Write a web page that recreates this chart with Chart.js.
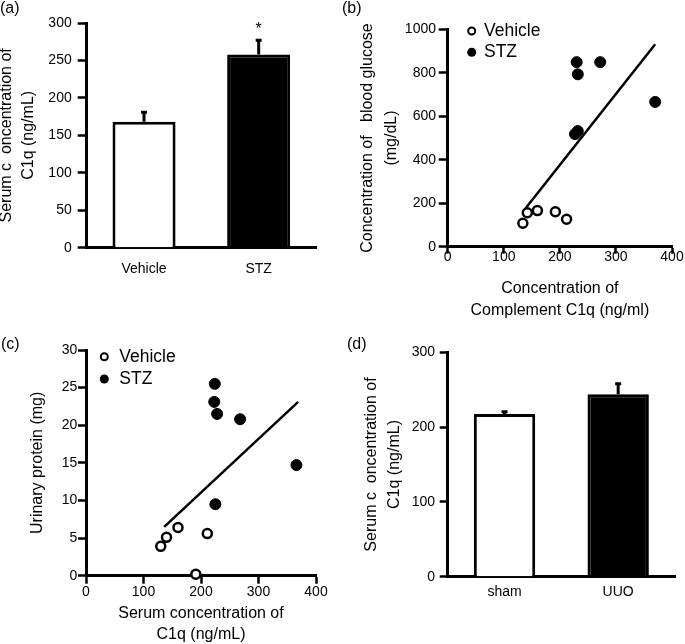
<!DOCTYPE html>
<html>
<head>
<meta charset="utf-8">
<script src="https://cdn.jsdelivr.net/npm/chart.js@4.4.1/dist/chart.umd.min.js"></script>
<style>
  body { margin: 0; background: #fff; font-family: "Liberation Sans", Arial, sans-serif; }
  #wrap { position: relative; width: 685px; height: 644px; }
  #wrap canvas { position: absolute; }
  .tag { position: absolute; font-size: 16px; line-height: 16px; color: #000; }
</style>
</head>
<body>
<div id="wrap">
  <canvas id="chartA" width="340" height="320" style="left:0;top:0"></canvas>
  <canvas id="chartB" width="345" height="320" style="left:340px;top:0"></canvas>
  <canvas id="chartC" width="340" height="324" style="left:0;top:320px"></canvas>
  <canvas id="chartD" width="345" height="324" style="left:340px;top:320px"></canvas>
  <div class="tag" style="left:0;top:0">(a)</div>
  <div class="tag" style="left:342px;top:0">(b)</div>
  <div class="tag" style="left:1px;top:336px">(c)</div>
  <div class="tag" style="left:347px;top:336px">(d)</div>
</div>
<script>
// (a) serum C1q, vehicle vs STZ
const groupsA = ['Vehicle', 'STZ'];
const meanA = [168, 258];
const semA = [15, 21];
const marksA = ['', '*'];

// (b) C1q vs blood glucose
const vehGluX = [134, 142, 160, 192, 212];
const vehGluY = [108, 156, 166, 161, 126];
const stzGluX = [230, 232, 272, 370, 227, 232];
const stzGluY = [849, 793, 849, 666, 518, 532];
const fitGluX = [139, 370];
const fitGluY = [177, 931];

// (c) C1q vs urinary protein
const vehProtX = [130, 140, 160, 211, 191];
const vehProtY = [3.9, 5.1, 6.4, 5.6, 0.2];
const stzProtX = [224, 223, 228, 268, 366, 225];
const stzProtY = [25.5, 23.1, 21.5, 20.8, 14.7, 9.5];
const fitProtX = [136, 369];
const fitProtY = [6.5, 23.1];

// (d) serum C1q, sham vs UUO
const groupsD = ['sham', 'UUO'];
const meanD = [217.5, 244];
const semD = [5, 16];

Chart.defaults.font.family = '"Liberation Sans", Arial, sans-serif';
Chart.defaults.color = '#000';

function toPoints(xs, ys) {
  return xs.map((x, i) => ({ x: x, y: ys[i] }));
}

// error bars (upper half only) + significance mark
const errorBars = {
  id: 'errorBars',
  afterDatasetsDraw(chart, args, opts) {
    const ctx = chart.ctx;
    const y = chart.scales.y;
    const ds = chart.data.datasets[0];
    ctx.save();
    ctx.strokeStyle = '#000';
    ctx.fillStyle = '#000';
    ctx.lineWidth = 3;
    chart.getDatasetMeta(0).data.forEach((bar, i) => {
      const top = y.getPixelForValue(ds.data[i] + opts.errors[i]);
      ctx.beginPath();
      ctx.moveTo(bar.x, bar.y);
      ctx.lineTo(bar.x, top + 1.5);
      ctx.moveTo(bar.x - 3, top + 1.5);
      ctx.lineTo(bar.x + 3, top + 1.5);
      ctx.stroke();
      if (opts.marks && opts.marks[i]) {
        ctx.font = '16px "Liberation Sans", Arial, sans-serif';
        ctx.textAlign = 'center';
        ctx.textBaseline = 'alphabetic';
        ctx.fillText(opts.marks[i], bar.x, top - 5);
      }
    });
    ctx.restore();
  }
};

// small legend inside the plot, top left
const pointKey = {
  id: 'pointKey',
  afterDraw(chart, args, opts) {
    const ctx = chart.ctx;
    const area = chart.chartArea;
    ctx.save();
    opts.items.forEach((idx, i) => {
      const ds = chart.data.datasets[idx];
      const cx = area.left + opts.dx;
      const cy = area.top + opts.dy + i * opts.step;
      ctx.beginPath();
      ctx.arc(cx, cy, idx === 0 ? 3.5 : 4.5, 0, Math.PI * 2);
      ctx.fillStyle = ds.backgroundColor;
      ctx.fill();
      if (idx === 0) {
        ctx.lineWidth = 2;
        ctx.strokeStyle = '#000';
        ctx.stroke();
      }
      ctx.fillStyle = '#000';
      ctx.font = '17.5px "Liberation Sans", Arial, sans-serif';
      ctx.textAlign = 'left';
      ctx.textBaseline = 'middle';
      ctx.fillText(ds.label, cx + opts.textDx, cy);
    });
    ctx.restore();
  }
};

function yAxis(max, step, title, width, lineH, titlePad, tickPad, tickLen) {
  return {
    min: 0, max: max,
    ticks: { stepSize: step, padding: tickPad, font: { size: 14, lineHeight: 1 }, format: { useGrouping: false } },
    grid: { drawOnChartArea: false, tickLength: tickLen, tickWidth: 2.5, tickColor: '#000' },
    border: { color: '#000', width: 3 },
    title: { display: true, text: title, font: { size: 16, lineHeight: lineH + 'px' }, padding: { top: titlePad, bottom: 0 } },
    afterFit: function (scale) { scale.width = width; }
  };
}

function xLinear(title, height, lineH, titlePad, tickPad, tickLen) {
  return {
    type: 'linear', min: 0, max: 400,
    ticks: { stepSize: 100, padding: tickPad, font: { size: 14, lineHeight: 1 } },
    grid: { drawOnChartArea: false, tickLength: tickLen, tickWidth: 2.5, tickColor: '#000' },
    border: { color: '#000', width: 3 },
    title: { display: true, text: title, font: { size: 16, lineHeight: lineH + 'px' }, padding: { top: 0, bottom: titlePad } },
    afterFit: function (scale) { scale.height = height; }
  };
}

function xCategory(height, tickPad) {
  return {
    grid: { drawOnChartArea: false, drawTicks: false },
    border: { color: '#000', width: 3 },
    ticks: { padding: tickPad, font: { size: 14, lineHeight: 1 } },
    afterFit: function (scale) { scale.height = height; }
  };
}

const base = {
  responsive: false,
  animation: false,
  devicePixelRatio: 1
};

function barChart(id, labels, means, errors, marks, pad, barPct, xH, xPad, yAx) {
  return new Chart(document.getElementById(id), {
    type: 'bar',
    data: {
      labels: labels,
      datasets: [{
        data: means,
        backgroundColor: ['#fff', '#000'],
        borderColor: '#000',
        borderWidth: 3,
        barPercentage: barPct,
        categoryPercentage: 1
      }]
    },
    options: Object.assign({}, base, {
      layout: { padding: pad },
      plugins: {
        legend: { display: false },
        tooltip: { enabled: false },
        errorBars: { errors: errors, marks: marks }
      },
      scales: { x: xCategory(xH, xPad), y: yAx }
    }),
    plugins: [errorBars]
  });
}

function scatterChart(id, vx, vy, sx, sy, fx, fy, pad, key, xAx, yAx) {
  return new Chart(document.getElementById(id), {
    type: 'scatter',
    data: {
      datasets: [
        { label: 'Vehicle', data: toPoints(vx, vy), backgroundColor: '#fff', borderColor: '#000', borderWidth: 2.5, pointRadius: 4.5, clip: false },
        { label: 'STZ', data: toPoints(sx, sy), backgroundColor: '#000', borderColor: '#000', borderWidth: 1, pointRadius: 5.5, clip: false },
        { label: 'fit', data: toPoints(fx, fy), showLine: true, borderColor: '#000', borderWidth: 2.5, pointRadius: 0, clip: false }
      ]
    },
    options: Object.assign({}, base, {
      layout: { padding: pad },
      plugins: {
        legend: { display: false },
        tooltip: { enabled: false },
        pointKey: key
      },
      scales: { x: xAx, y: yAx }
    }),
    plugins: [pointKey]
  });
}

barChart('chartA', groupsA, meanA, semA, marksA,
  { top: 23, right: 24, left: 0, bottom: 0 }, 0.55, 72.3, 14.5,
  yAxis(300, 50, ['Serum c  oncentration of', 'C1q (ng/mL)'], 86.7, 22, -4, 6, 9));

scatterChart('chartB', vehGluX, vehGluY, stzGluX, stzGluY, fitGluX, fitGluY,
  { top: 29.3, right: 13, left: 0, bottom: 0 },
  { items: [0, 1], dx: 24, dy: 1.7, step: 21.3, textDx: 12.3 },
  xLinear(['Concentration of', 'Complement C1q (ng/ml)'], 73.3, 21.7, -1, -3.4, 7),
  yAxis(1000, 200, ['Concentration of   blood glucose', '(mg/dL)'], 107.7, 24, 16, 2.7, 9));

scatterChart('chartC', vehProtX, vehProtY, stzProtX, stzProtY, fitProtX, fitProtY,
  { top: 30, right: 24, left: 0, bottom: 0 },
  { items: [0, 1], dx: 18.3, dy: 6.7, step: 22.3, textDx: 15 },
  xLinear(['Serum concentration of', 'C1q (ng/mL)'], 68.3, 21, -1.5, 1, 8),
  yAxis(30, 5, 'Urinary protein (mg)', 86, 19, 28.5, 0.7, 8));

barChart('chartD', groupsD, meanD, semD, null,
  { top: 32.3, right: 10, left: 0, bottom: 0 }, 0.54, 67.3, 8,
  yAxis(300, 100, ['Serum c  oncentration of', 'C1q (ng/mL)'], 107.7, 22.7, 20.7, 4.7, 8));
</script>
</body>
</html>
